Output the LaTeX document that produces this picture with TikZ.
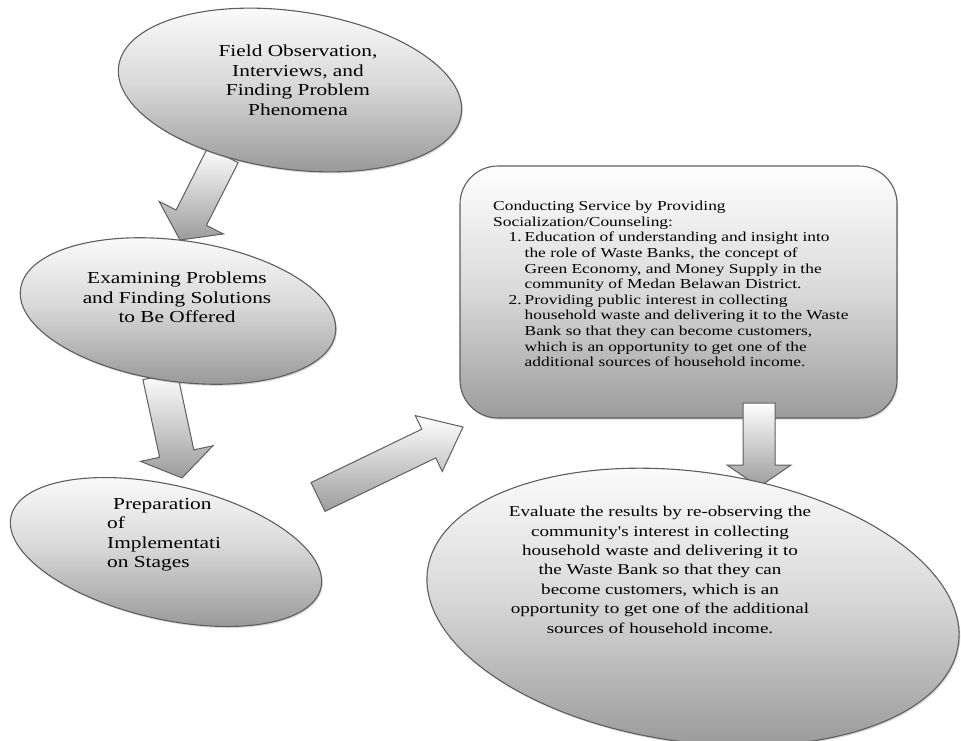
\documentclass[tikz,border=0pt]{standalone}
\usepackage{fontspec}
\setmainfont{Liberation Serif}
\newfontfamily\wideserif[FakeStretch=1.27]{Liberation Serif}
\usetikzlibrary{shapes.geometric,calc,shadows}
\pgfdeclarelayer{back}
\pgfsetlayers{back,main}
\definecolor{edgegray}{HTML}{5E5E5E}
\definecolor{botgray}{HTML}{9C9C9C}
\definecolor{midgray}{HTML}{D9D9D9}
\tikzset{
  blob/.style={ellipse, draw=edgegray, line width=1.1pt, inner sep=0pt,
    top color=white, bottom color=botgray, middle color=midgray,
    drop shadow={shadow xshift=1.2pt, shadow yshift=-1.6pt, opacity=0.3}},
  roundbox/.style={rectangle, rounded corners=38pt, draw=edgegray, line width=1.1pt,
    inner sep=0pt, top color=white, bottom color=botgray, middle color=midgray,
    drop shadow={shadow xshift=1.2pt, shadow yshift=-1.6pt, opacity=0.3}},
  arrowbody/.style={draw=edgegray, line width=1pt, line join=miter,
    top color=white, bottom color=botgray},
  bigtext/.style={inner sep=0pt, align=center, text=black,
    font=\wideserif\fontsize{16.8}{19.5}\selectfont},
  midtext/.style={inner sep=0pt, align=center, text=black,
    font=\wideserif\fontsize{15}{19.4}\selectfont},
  smalltext/.style={inner sep=0pt, align=left, text=black,
    font=\wideserif\fontsize{13.7}{15.6}\selectfont},
}
% name, tail, tip, shaft half width, head half width, head length
\newcommand\blockarrow[6]{%
  \coordinate (#1h) at ($(#3)!#6!(#2)$);
  \draw[arrowbody] ($(#2)!#4!90:(#3)$) -- ($(#1h)!#4!90:(#3)$)
    -- ($(#1h)!#5!90:(#3)$) -- (#3) -- ($(#1h)!#5!-90:(#3)$)
    -- ($(#1h)!#4!-90:(#3)$) -- ($(#2)!#4!-90:(#3)$) -- cycle;
}
\begin{document}
\begin{tikzpicture}[x=1pt,y=-1pt]
\useasboundingbox (0,0) rectangle (961,740);

% ellipses
\node[blob, minimum width=346pt, minimum height=158pt, rotate=-8] (e1) at (290,90) {};
\node[blob, minimum width=318pt, minimum height=141pt, rotate=-8] (e2) at (178,311) {};
\node[blob, minimum width=318pt, minimum height=134pt, rotate=-13] (e3) at (166,552) {};

% text of ellipses
\node[bigtext, anchor=north] (t1) at (298,45) {Field Observation,\\Interviews, and\\Finding Problem\\Phenomena};
\node[bigtext, anchor=north] (t2) at (177,272) {Examining Problems\\and Finding Solutions\\to Be Offered};
\node[bigtext, anchor=north west, align=left] (t3) at (107,498) {\hspace*{6pt}Preparation\\of\\Implementati\\on Stages};

% connector coordinates
\coordinate (a1s) at (223,155);
\coordinate (a1e) at (180,240);
\coordinate (a2s) at (160,376);
\coordinate (a2e) at (182,478);
\coordinate (a3s) at (318,497);
\coordinate (a3e) at (463,427);
\coordinate (a4s) at (759,403);
\coordinate (a4e) at (759,487);

\begin{pgfonlayer}{back}
  \node[roundbox, minimum width=437pt, minimum height=252pt] (box) at (678.5,292) {};
  \blockarrow{a1}{a1s}{a1e}{17pt}{36pt}{25pt}
  \blockarrow{a2}{a2s}{a2e}{17.5pt}{37pt}{25pt}
  \blockarrow{a3}{a3s}{a3e}{16pt}{31pt}{38pt}
  \blockarrow{a4}{a4s}{a4e}{16pt}{32pt}{22pt}
\end{pgfonlayer}

\node[smalltext, anchor=north west] (t4) at (493,201) {Conducting Service by Providing\\
Socialization/Counseling:\\
\hspace*{15.5pt}\makebox[16pt][l]{1.}Education of understanding and insight into\\
\hspace*{31.5pt}the role of Waste Banks, the concept of\\
\hspace*{31.5pt}Green Economy, and Money Supply in the\\
\hspace*{31.5pt}community of Medan Belawan District.\\
\hspace*{15.5pt}\makebox[16pt][l]{2.}Providing public interest in collecting\\
\hspace*{31.5pt}household waste and delivering it to the Waste\\
\hspace*{31.5pt}Bank so that they can become customers,\\
\hspace*{31.5pt}which is an opportunity to get one of the\\
\hspace*{31.5pt}additional sources of household income.};

\node[blob, minimum width=536pt, minimum height=270pt, rotate=-8] (e5) at (693,607) {};
\node[midtext, anchor=north] (t5) at (660,506) {Evaluate the results by re-observing the\\community's interest in collecting\\household waste and delivering it to\\the Waste Bank so that they can\\become customers, which is an\\opportunity to get one of the additional\\sources of household income.};
\end{tikzpicture}
\end{document}
